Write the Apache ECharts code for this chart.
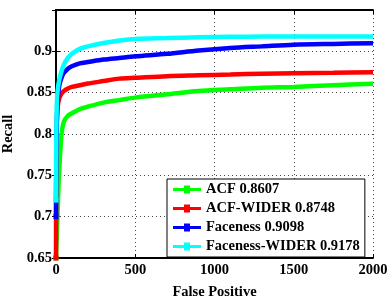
<!DOCTYPE html>
<html><head><meta charset="utf-8">
<script src="https://cdn.jsdelivr.net/npm/echarts@6/dist/echarts.min.js"></script>
<style>html,body{margin:0;padding:0;background:#fff}#c{width:390px;height:296px}</style>
</head><body><div id="c"></div>
<script>
var seriesNames = ['ACF 0.8607', 'ACF-WIDER 0.8748', 'Faceness 0.9098', 'Faceness-WIDER 0.9178'];
var seriesColors = ['#00ff00', '#ff0000', '#0000ff', '#00ffff'];
var falsePositives = [0, 2, 5, 10, 20, 35, 50, 75, 100, 150, 200, 300, 400, 500, 700, 900, 1100, 1300, 1500, 1750, 2000];
var recallACF = [0.65, 0.66, 0.675, 0.705, 0.755, 0.80, 0.815, 0.822, 0.825, 0.830, 0.833, 0.838, 0.841, 0.844, 0.848, 0.852, 0.854, 0.856, 0.857, 0.859, 0.8607];
var recallACFWider = [0.65, 0.78, 0.815, 0.832, 0.843, 0.849, 0.852, 0.855, 0.857, 0.859, 0.861, 0.864, 0.867, 0.868, 0.870, 0.871, 0.872, 0.873, 0.8735, 0.874, 0.8748];
var recallFaceness = [0.70, 0.77, 0.81, 0.838, 0.858, 0.868, 0.874, 0.879, 0.882, 0.8855, 0.887, 0.890, 0.892, 0.894, 0.897, 0.901, 0.904, 0.906, 0.908, 0.909, 0.9098];
var recallFacenessWider = [0.72, 0.80, 0.835, 0.852, 0.865, 0.876, 0.884, 0.892, 0.897, 0.903, 0.906, 0.910, 0.913, 0.915, 0.916, 0.917, 0.9175, 0.918, 0.918, 0.918, 0.918];
var xTicks = [0, 500, 1000, 1500, 2000];
var yTicks = [0.65, 0.7, 0.75, 0.8, 0.85, 0.9];

var allRecalls = [recallACF, recallACFWider, recallFaceness, recallFacenessWider];
var FONT = '"Liberation Serif","Times New Roman",serif';
var FS = 14.5;

function pairs(ys){
  return falsePositives.map(function(x,i){
    if (i === 0) return {value: [x, ys[i]], symbol: 'rect', symbolSize: 5};
    return [x, ys[i]];
  });
}

var chart = echarts.init(document.getElementById('c'), null, {renderer:'canvas'});
var series = allRecalls.map(function(ys, i){
  return {
    name: seriesNames[i], type: 'line', data: pairs(ys), symbol: 'none', showSymbol: true,
    smooth: 0.3, lineStyle: {color: seriesColors[i], width: 4.5}, itemStyle: {color: seriesColors[i]},
    xAxisIndex: 0, yAxisIndex: 0, z: 2 + i
  };
});
var frameLine = {show: true, lineStyle: {color: '#000', width: 2}};
var option = {
  animation: false,
  backgroundColor: '#fff',
  grid: {left: 56, right: 17, top: 10, bottom: 38, containLabel: false, outerBoundsMode: 'none'},
  xAxis: [{
    type: 'value', min: 0, max: 2000, interval: 500, position: 'bottom',
    name: 'False Positive', nameLocation: 'middle', nameGap: 27,
    nameTextStyle: {fontFamily: FONT, fontWeight: 'bold', fontSize: FS, color: '#000'},
    axisLine: frameLine, axisTick: {show: true, inside: true, length: 4, lineStyle: {color: '#000', width: 1}},
    axisLabel: {fontFamily: FONT, fontWeight: 'bold', fontSize: FS, color: '#000', margin: 5,
      formatter: function(v){ return xTicks.indexOf(v) >= 0 ? String(v) : ''; }},
    splitLine: {show: true, lineStyle: {color: '#444', width: 1, type: [1, 3]}}
  }, {
    type: 'value', min: 0, max: 2000, interval: 500, position: 'top',
    axisLine: frameLine, axisTick: {show: true, inside: true, length: 4, lineStyle: {color: '#000'}},
    axisLabel: {show: false}, splitLine: {show: false}
  }],
  yAxis: [{
    type: 'value', min: 0.65, max: 0.95, interval: 0.05, position: 'left',
    name: 'Recall', nameLocation: 'middle', nameGap: 40, nameRotate: 90,
    nameTextStyle: {fontFamily: FONT, fontWeight: 'bold', fontSize: FS, color: '#000'},
    axisLine: frameLine, axisTick: {show: true, inside: true, length: 4, lineStyle: {color: '#000'}},
    axisLabel: {fontFamily: FONT, fontWeight: 'bold', fontSize: FS, color: '#000', margin: 4, showMaxLabel: false,
      formatter: function(v){
        for (var k = 0; k < yTicks.length; k++) { if (Math.abs(yTicks[k] - v) < 1e-6) return String(yTicks[k]); }
        return '';
      }},
    splitLine: {show: true, lineStyle: {color: '#444', width: 1, type: [1, 3]}}
  }, {
    type: 'value', min: 0.65, max: 0.95, interval: 0.05, position: 'right',
    axisLine: frameLine, axisTick: {show: true, inside: true, length: 4, lineStyle: {color: '#000'}},
    axisLabel: {show: false}, splitLine: {show: false}
  }],
  legend: {
    orient: 'vertical', left: 167, top: 179,
    padding: [3, 5, 3, 6], itemGap: 4, itemWidth: 28, itemHeight: 8,
    backgroundColor: '#fff', borderColor: '#000', borderWidth: 1,
    icon: 'path://M0,2.5H11V0H17V2.5H28V5.5H17V8H11V5.5H0Z',
    textStyle: {fontFamily: FONT, fontWeight: 'bold', fontSize: FS, color: '#000', lineHeight: 14},
    data: seriesNames
  },
  series: series
};
chart.setOption(option);
</script></body></html>
